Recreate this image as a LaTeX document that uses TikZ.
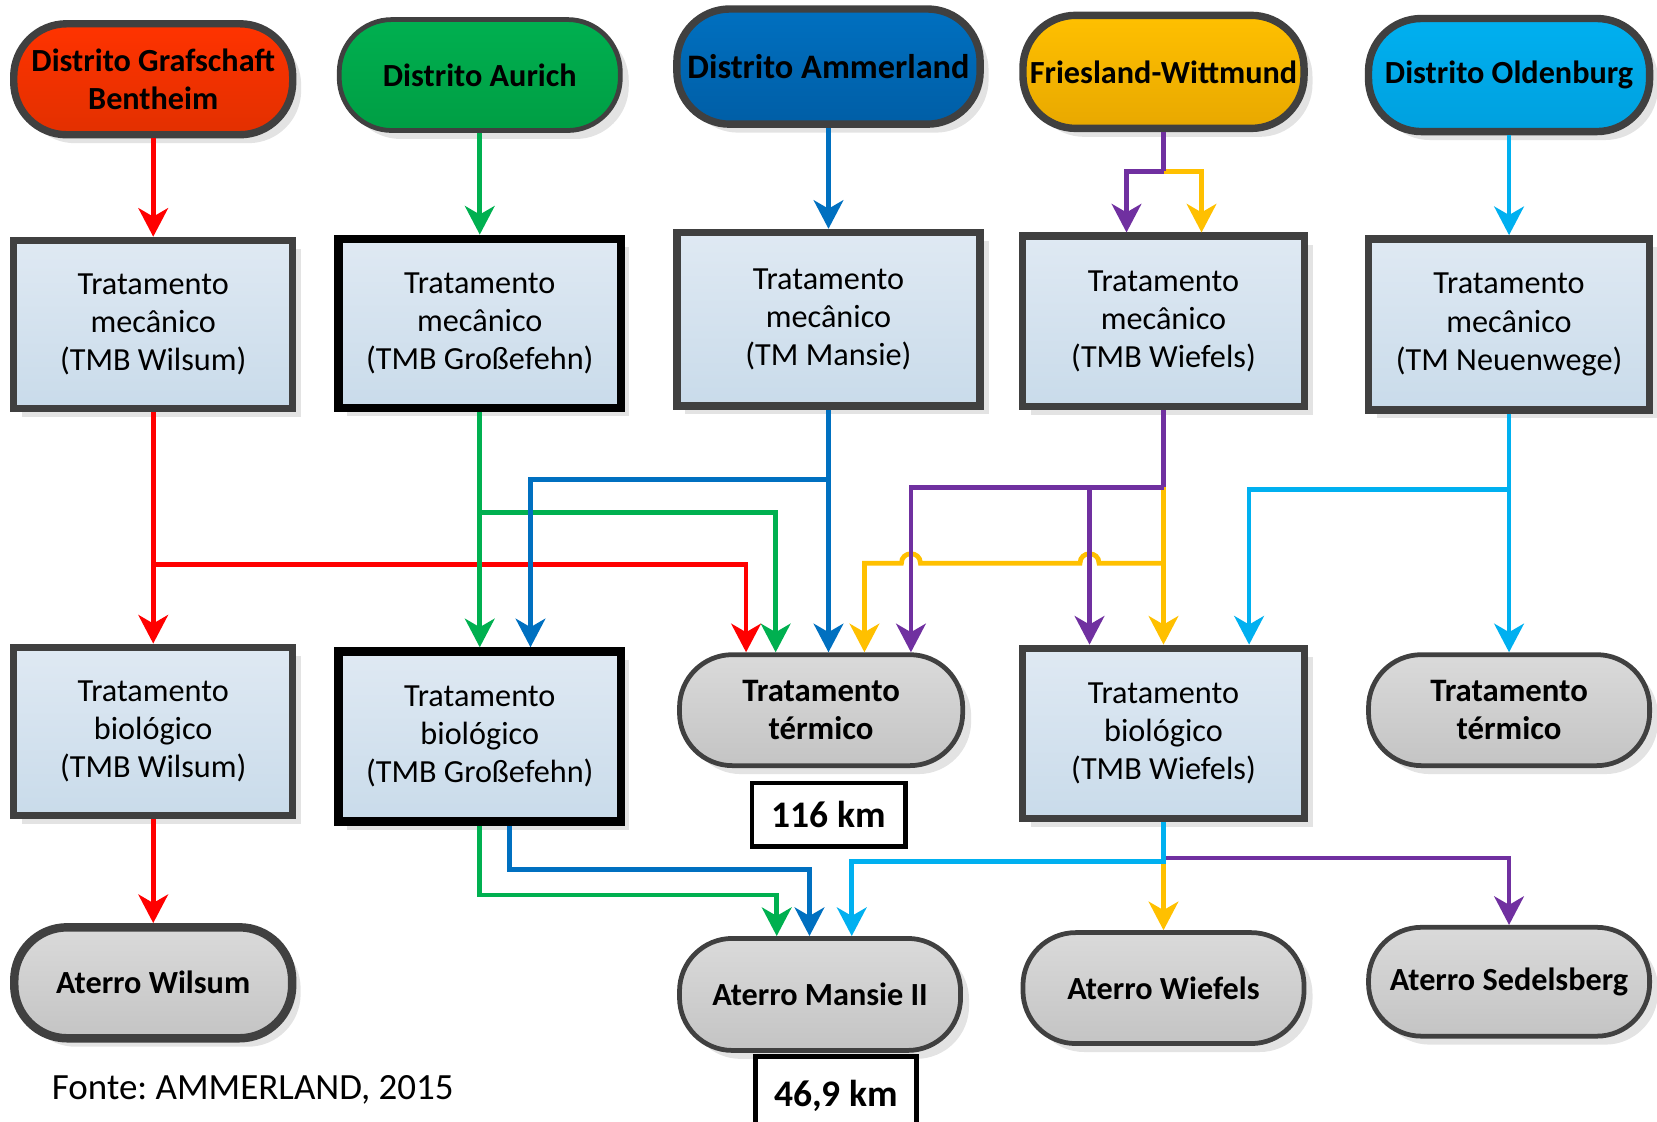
\documentclass[tikz,border=0pt]{standalone}
\usepackage{fontspec}
\setmainfont{Carlito}
\frenchspacing
\usetikzlibrary{arrows.meta,shadows,calc}
\definecolor{cRed}{HTML}{FF0000}
\definecolor{cGreen}{HTML}{00B050}
\definecolor{cBlue}{HTML}{0070C0}
\definecolor{cYel}{HTML}{FFC000}
\definecolor{cPur}{HTML}{7030A0}
\definecolor{cLB}{HTML}{00B0F0}
\definecolor{cBord}{HTML}{404040}
\definecolor{boxTop}{HTML}{DFE9F3}
\definecolor{boxBot}{HTML}{C9DBEA}
\definecolor{grTop}{HTML}{DADADA}
\definecolor{grBot}{HTML}{C4C4C4}
\definecolor{rT}{HTML}{FF3300}
\definecolor{rB}{HTML}{E23000}
\definecolor{gT}{HTML}{00B050}
\definecolor{gB}{HTML}{009E44}
\definecolor{bT}{HTML}{0070C0}
\definecolor{bB}{HTML}{005EA6}
\definecolor{yT}{HTML}{FFC000}
\definecolor{yB}{HTML}{E8A800}
\definecolor{lT}{HTML}{00B0F0}
\definecolor{lB}{HTML}{00A0DE}
\begin{document}
\begin{tikzpicture}[x=1pt,y=-1pt,
  shadowed/.style={drop shadow={shadow xshift=8pt,shadow yshift=-8pt,fill=black!11,opacity=1}},
  txt/.style={font=\fontsize{30.5}{36}\selectfont, align=center, inner sep=0pt},
  btxt/.style={font=\bfseries\fontsize{30.5}{36}\selectfont, align=center, inner sep=0pt},
  box/.style={txt, rectangle, draw=cBord, line width=7pt, top color=boxTop, bottom color=boxBot, shadowed},
  bbox/.style={box, draw=black, line width=8pt},
  stad/.style={btxt, rectangle, rounded corners=50pt, draw=cBord, shadowed},
  gstad/.style={stad, top color=grTop, bottom color=grBot},
  kmbox/.style={font=\bfseries\fontsize{35.5}{40}\selectfont, draw=black, line width=4.5pt, fill=white, inner sep=0pt},
  conn/.style={line width=4.5pt, -{Stealth[length=27pt,width=28pt,inset=8pt]}},
  plain/.style={line width=4.5pt}
]
\useasboundingbox (0,0) rectangle (1568,1061);

% districts
\node[stad, line width=7pt, minimum width=264pt, minimum height=105pt, top color=rT, bottom color=rB] (d1) at (145,75) {Distrito Grafschaft\\Bentheim};
\node[stad, line width=4.5pt, minimum width=266pt, minimum height=105pt, top color=gT, bottom color=gB] (d2) at (454,71) {Distrito Aurich};
\node[stad, line width=7pt, minimum width=287pt, minimum height=109pt, top color=bT, bottom color=bB, font=\bfseries\fontsize{32.5}{36}\selectfont] (d3) at (784,63) {Distrito Ammerland};
\node[stad, line width=7pt, minimum width=266pt, minimum height=107pt, top color=yT, bottom color=yB] (d4) at (1101,68) {Friesland-Wittmund};
\node[stad, line width=7pt, minimum width=266pt, minimum height=107pt, top color=lT, bottom color=lB] (d5) at (1428,71) {Distrito Oldenburg};

% mechanical treatment
\node[box, minimum width=264pt, minimum height=159pt] (m1) at (145,307) {Tratamento\\mecânico\\(TMB Wilsum)};
\node[bbox, minimum width=267pt, minimum height=160pt] (m2) at (454,306) {Tratamento\\mecânico\\(TMB Großefehn)};
\node[box, minimum width=287pt, minimum height=164pt] (m3) at (784,302) {Tratamento\\mecânico\\(TM Mansie)};
\node[box, minimum width=267pt, minimum height=161pt] (m4) at (1101,304) {Tratamento\\mecânico\\(TMB Wiefels)};
\node[box, minimum width=266pt, minimum height=162pt] (m5) at (1428,307) {Tratamento\\mecânico\\(TM Neuenwege)};

% row 3
\node[box, minimum width=264pt, minimum height=159pt] (b1) at (145,692) {Tratamento\\biológico\\(TMB Wilsum)};
\node[bbox, minimum width=267pt, minimum height=161pt] (b2) at (454,697) {Tratamento\\biológico\\(TMB Großefehn)};
\node[gstad, line width=4.5pt, minimum width=268pt, minimum height=105pt, font=\bfseries\fontsize{31}{36}\selectfont] (t1) at (777,672) {Tratamento\\térmico};
\node[box, minimum width=267pt, minimum height=161pt] (b3) at (1101,694) {Tratamento\\biológico\\(TMB Wiefels)};
\node[gstad, line width=4.5pt, minimum width=266pt, minimum height=105pt, font=\bfseries\fontsize{31}{36}\selectfont] (t2) at (1428,672) {Tratamento\\térmico};
\node[kmbox, minimum width=145pt, minimum height=60pt] (k1) at (784,771) {116 km};

% row 4
\node[gstad, line width=8pt, minimum width=263pt, minimum height=105pt] (a1) at (145,930) {Aterro Wilsum};
\node[gstad, line width=4.5pt, minimum width=266pt, minimum height=106pt] (a2) at (776,941) {Aterro Mansie II};
\node[gstad, line width=4.5pt, minimum width=266pt, minimum height=105pt] (a3) at (1101,935) {Aterro Wiefels};
\node[gstad, line width=4.5pt, minimum width=266pt, minimum height=103pt] (a4) at (1428,929) {Aterro Sedelsberg};
\node[kmbox, minimum width=152pt, minimum height=74pt] (k2) at (791,1037) {46,9 km};

\node[anchor=west, font=\fontsize{35}{40}\selectfont, inner sep=0pt] (src) at (49,1031) {Fonte: AMMERLAND, 2015};

% named bend points
\coordinate (rA) at (706,534);
\coordinate (gA) at (734,485);
\coordinate (gC) at (735,847);
\coordinate (bA) at (502,454);
\coordinate (bB) at (482,823);
\coordinate (bC) at (766,823);
\coordinate (pA) at (1101,162);
\coordinate (pB) at (1066,162);
\coordinate (yA) at (1137,162);
\coordinate (pC) at (1101,461);
\coordinate (pD) at (862,461);
\coordinate (pE) at (1031,461);
\coordinate (yJ) at (1101,533);
\coordinate (yC) at (818,533);
\coordinate (lA) at (1182,463);
\coordinate (lJ) at (1101,815);
\coordinate (lC) at (806,815);
\coordinate (pF) at (1101,812);
\coordinate (pG) at (1428,812);

% red
\draw[conn, cRed] (d1) -- (m1);
\draw[conn, cRed] (m1.south |- rA) -- (rA) -- (rA |- t1.north);
\draw[conn, cRed] (m1) -- (b1);
\draw[conn, cRed] (b1) -- (a1);

% green
\draw[conn, cGreen] (d2) -- (m2);
\draw[conn, cGreen] (m2) -- (b2);
\draw[conn, cGreen] (m2.south |- gA) -- (gA) -- (gA |- t1.north);
\draw[conn, cGreen] (b2.south) |- (gC) -- (gC |- a2.north);

% blue
\draw[conn, cBlue] (d3) -- (m3);
\draw[conn, cBlue] (m3.south) -- (m3.south |- t1.north);
\draw[conn, cBlue] (m3.south |- bA) -- (bA) -- (bA |- b2.north);
\draw[conn, cBlue] (bB |- b2.south) -- (bB) -- (bC) -- (bC |- a2.north);

% yellow
\draw[conn, cYel] (pA) -- (yA) -- (yA |- m4.north);
\draw[conn, cYel] (pC) -- (pC |- b3.north);
\draw[conn, cYel] (yJ) -- ($(pE |- yJ)+(9,0)$) .. controls +(0,-12) and +(0,-12) .. ($(pE |- yJ)+(-9,0)$)
   -- ($(pD |- yJ)+(9,0)$) .. controls +(0,-12) and +(0,-12) .. ($(pD |- yJ)+(-9,0)$)
   -- (yC) -- (yC |- t1.north);
\draw[conn, cYel] (lJ) -- (a3);

% purple
\draw[plain, cPur] (d4.south) -- (pA);
\draw[conn, cPur] (pA) -- (pB) -- (pB |- m4.north);
\draw[plain, cPur] (m4.south) -- (pC);
\draw[conn, cPur] (pC) -- (pD) -- (pD |- t1.north);
\draw[conn, cPur] (pE) -- (pE |- b3.north);
\draw[conn, cPur] (pF) -- (pG) -- (pG |- a4.north);

% light blue
\draw[conn, cLB] (d5) -- (m5);
\draw[conn, cLB] (m5) -- (t2);
\draw[conn, cLB] (m5.south |- lA) -- (lA) -- (lA |- b3.north);
\draw[conn, cLB] (b3.south) -- (lJ) -- (lC) -- (lC |- a2.north);
\end{tikzpicture}
\end{document}
